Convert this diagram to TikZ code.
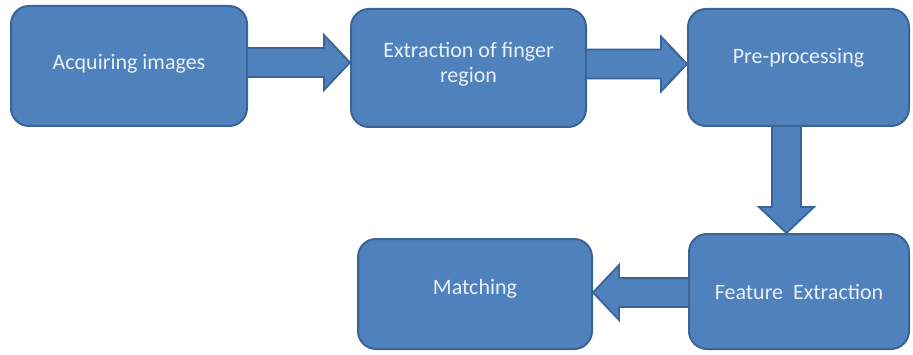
\documentclass[tikz,border=0pt]{standalone}
\usepackage{fontspec}
\setmainfont{Carlito}
\usetikzlibrary{calc}

\definecolor{boxfill}{HTML}{4F81BD}
\definecolor{boxline}{HTML}{3A6497}
\definecolor{boxtext}{HTML}{E9F0F8}

% block arrow from #1 to #2 (shaft 29pt, head 55pt wide, 26pt long)
\newcommand{\blockarrow}[2]{%
	\path let \p1=(#1), \p2=(#2) in
		\pgfextra{\pgfmathsetmacro\arrang{atan2(\y2-\y1,\x2-\x1)}%
			\pgfmathsetmacro\arrlen{veclen(\x2-\x1,\y2-\y1)}%
			\xdef\arrang{\arrang}\xdef\arrlen{\arrlen}};
	\begin{scope}[shift={(#1)},rotate=\arrang]
		\filldraw[arrow body] (0,14.5) -- (\arrlen-26,14.5) -- (\arrlen-26,27.5) -- (\arrlen,0)
			-- (\arrlen-26,-27.5) -- (\arrlen-26,-14.5) -- (0,-14.5);
	\end{scope}}

\begin{document}
\begin{tikzpicture}[x=1pt,y=1pt]

	\tikzstyle stage=[draw=boxline, fill=boxfill, line width=2pt, rounded corners=18pt, text=boxtext, font=\fontsize{22}{25}\selectfont, align=center, inner sep=0pt];
	\tikzstyle arrow body=[draw=boxline, fill=boxfill, line width=1.8pt, line join=miter];

	\useasboundingbox[fill=white] (0,0) rectangle (913,354);

	\node[stage, minimum width=236pt, minimum height=120pt, text depth=9pt] (acq) at (129,288) {Acquiring images};
	\node[stage, minimum width=235pt, minimum height=118pt, text depth=12pt] (extr) at (468.5,286) {Extraction of finger\\region};
	\node[stage, minimum width=221pt, minimum height=117pt, text depth=23pt] (pre) at (798.5,286.5) {Pre-processing};
	\node[stage, minimum width=220pt, minimum height=115pt] (feat) at (799,62.5) {Feature\ \ Extraction};
	\node[stage, minimum width=234pt, minimum height=110pt, text depth=15pt] (match) at (475,60) {Matching};

	\blockarrow{$(acq.east)+(0,3.5)$}{$(extr.west)+(0,5.5)$}
	\blockarrow{$(extr.east)+(0,4)$}{$(pre.west)+(0,3.5)$}
	\blockarrow{$(pre.south)+(-12,0)$}{$(feat.north)+(-12.5,0)$}
	\blockarrow{$(feat.west)+(0,-1)$}{$(match.east)+(0,1.5)$}

	%\draw[help lines] (0,0) grid (913,354);

\end{tikzpicture}
\end{document}
